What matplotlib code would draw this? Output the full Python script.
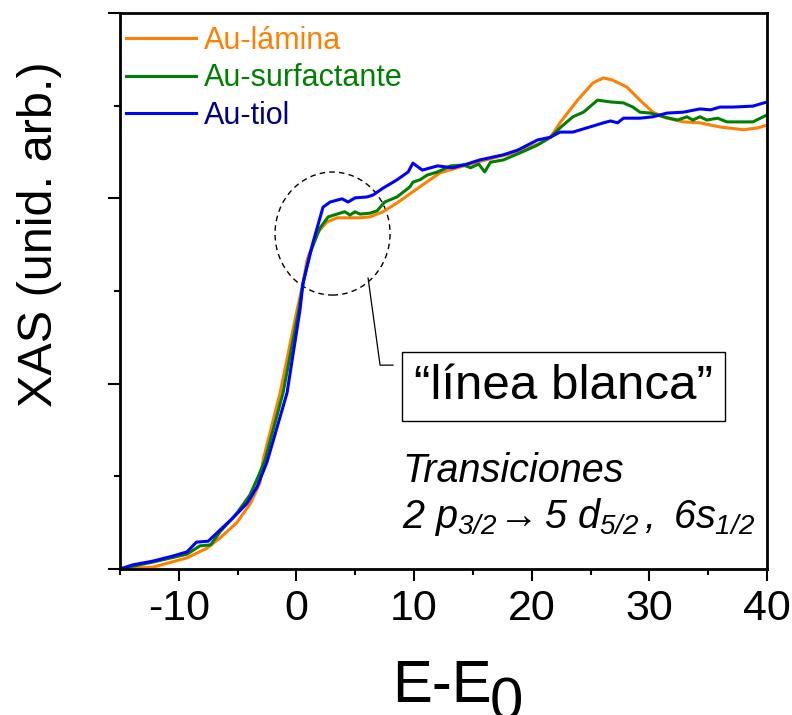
import matplotlib
matplotlib.use('Agg')
import matplotlib.pyplot as plt
from matplotlib.patches import Ellipse
from matplotlib.ticker import MultipleLocator

plt.rcParams['font.family'] = ['Liberation Sans', 'DejaVu Sans']
plt.rcParams['axes.unicode_minus'] = False
# italic everywhere in mathtext so the digits of the transition line lean too
plt.rcParams['mathtext.fontset'] = 'custom'
plt.rcParams['mathtext.rm'] = 'Liberation Sans:italic'
plt.rcParams['mathtext.it'] = 'Liberation Sans:italic'
plt.rcParams['mathtext.default'] = 'it'

# Au-lamina (orange)
e_lamina = [-15.0, -12.2, -9.3, -7.6, -6.5, -5.1, -3.9, -3.1, -2.84, -1.39, 0.05, 0.56,
            0.9, 1.75, 2.6, 3.45, 5.4, 6.26, 7.36, 8.55, 10.5, 12.2, 14.5, 16.7, 18.8,
            20.7, 21.6, 22.4, 23.9, 25.2, 26.1, 26.9, 28.1, 29.2, 30.3, 31.5, 32.9,
            34.3, 36.0, 38.0, 39.2, 40.0]
xas_lamina = [0.000, 0.004, 0.024, 0.045, 0.067, 0.099, 0.142, 0.186, 0.235, 0.380, 0.559, 0.617,
              0.667, 0.725, 0.749, 0.758, 0.758, 0.760, 0.771, 0.790, 0.825, 0.855, 0.872, 0.887, 0.900,
              0.919, 0.932, 0.963, 1.012, 1.049, 1.060, 1.055, 1.040, 1.012, 0.986, 0.973, 0.965,
              0.963, 0.954, 0.948, 0.952, 0.958]

# Au-surfactante (green)
e_surf = [-15.0, -13.9, -12.2, -9.3, -8.2, -7.3, -6.5, -5.05, -3.95, -3.26, -2.67, -1.14,
          0.2, 0.56, 1.16, 2.0, 2.7, 3.7, 4.1, 4.56, 4.98, 5.4, 6.26, 6.85, 7.5, 8.55,
          9.66, 9.9, 10.5, 11.1, 12.0, 13.1, 14.2, 14.8, 15.5, 16.0, 16.5, 17.6, 19.0,
          20.5, 21.6, 22.4, 23.5, 24.4, 25.6, 26.7, 27.8, 28.6, 29.2, 30.1, 31.2, 32.4,
          33.2, 33.7, 34.3, 34.9, 35.8, 36.6, 38.8, 40.0]
xas_surf = [0.000, 0.006, 0.015, 0.032, 0.050, 0.052, 0.080, 0.121, 0.160, 0.199, 0.235, 0.380,
            0.559, 0.617, 0.682, 0.736, 0.760, 0.768, 0.771, 0.764, 0.771, 0.766, 0.768, 0.773, 0.792, 0.803,
            0.825, 0.835, 0.840, 0.850, 0.857, 0.870, 0.872, 0.866, 0.874, 0.857, 0.878, 0.883, 0.898,
            0.915, 0.932, 0.952, 0.976, 0.986, 1.012, 1.008, 1.006, 0.997, 0.986, 0.984, 0.976, 0.969,
            0.976, 0.969, 0.976, 0.969, 0.973, 0.965, 0.965, 0.980]

# Au-tiol (blue)
e_tiol = [-15.0, -13.9, -12.2, -10.5, -9.3, -8.5, -7.5, -6.5, -5.4, -4.2, -3.35, -2.5,
          -0.8, 0.3, 0.56, 1.4, 2.26, 2.86, 3.88, 4.39, 4.98, 6.0, 6.5, 7.36, 8.55,
          9.5, 9.9, 10.7, 12.0, 13.3, 14.5, 15.6, 17.6, 18.8, 20.5, 21.6, 22.4, 23.5,
          25.2, 26.1, 26.7, 27.3, 27.8, 29.2, 30.3, 31.5, 32.9, 34.3, 35.2, 36.0, 37.1,
          38.8, 40.0]
xas_tiol = [0.000, 0.009, 0.017, 0.028, 0.037, 0.058, 0.060, 0.084, 0.110, 0.142, 0.177, 0.231,
            0.380, 0.559, 0.617, 0.704, 0.781, 0.792, 0.799, 0.792, 0.801, 0.803, 0.807, 0.822, 0.840,
            0.857, 0.876, 0.861, 0.870, 0.866, 0.874, 0.883, 0.894, 0.904, 0.926, 0.932, 0.943, 0.943,
            0.956, 0.963, 0.967, 0.963, 0.973, 0.973, 0.976, 0.984, 0.986, 0.993, 0.991, 0.997, 0.997,
            0.999, 1.008]

labels = ['Au-lámina', 'Au-surfactante', 'Au-tiol']
line_colors = ['#FF8000', '#008000', '#0000FF']
text_colors = ['#FF8000', '#008000', '#000080']

fig = plt.figure(figsize=(7.92, 7.15), dpi=100)
ax = fig.add_axes([0.1515, 0.2042, 0.8169, 0.7776])

series = [(e_lamina, xas_lamina), (e_surf, xas_surf), (e_tiol, xas_tiol)]
handles = []
for (e, v), c in zip(series, line_colors):
    h, = ax.plot(e, v, color=c, lw=2.2, solid_joinstyle='round')
    handles.append(h)

ax.set_xlim(-15, 40)
ax.set_ylim(0, 1.2)
ax.xaxis.set_major_locator(MultipleLocator(10))
ax.xaxis.set_minor_locator(MultipleLocator(5))
ax.yaxis.set_major_locator(MultipleLocator(0.4))
ax.yaxis.set_minor_locator(MultipleLocator(0.2))
ax.tick_params(which='major', direction='out', length=8.6, width=1.5, labelsize=31, pad=5.5)
ax.tick_params(which='minor', direction='out', length=4.3, width=1.5)
ax.tick_params(axis='y', labelleft=False)
for s in ax.spines.values():
    s.set_linewidth(2)

leg = ax.legend(handles, labels, loc='upper left', bbox_to_anchor=(0.009, 0.977),
                frameon=False, fontsize=22, handlelength=2.3, handletextpad=0.27,
                labelspacing=0.25, borderpad=0, borderaxespad=0, labelcolor=text_colors)

# white line region
ax.add_patch(Ellipse((3.07, 0.724), 9.78, 0.2655, fill=False, ec='black',
                     lw=1, ls=(0, (4, 3))))
ax.plot([6.09, 7.11, 8.21], [0.628, 0.440, 0.440], color='black', lw=0.9)
ax.text(22.71, 0.394, '\u201clínea blanca\u201d', fontsize=35.5, ha='center', va='center',
        bbox=dict(boxstyle='square,pad=0.24', fc='white', ec='black', lw=1))

ax.text(8.98, 0.188, 'Transiciones', fontsize=28.5, fontstyle='italic',
        ha='left', va='baseline')
ax.text(8.98, 0.0885, r'$2\ p_{3/2}\!\rightarrow 5\ d_{5/2}\,,\ 6s_{1/2}$',
        fontsize=28.5, ha='left', va='baseline')

fig.text(40 / 792, 1 - 234.5 / 715, 'XAS (unid. arb.)', rotation=90, fontsize=35,
         ha='center', va='center')
fig.text(441.5 / 792, 13 / 715, 'E-E', fontsize=43, ha='center', va='baseline')
fig.text(490 / 792, -5 / 715, '0', fontsize=43, ha='left', va='baseline')

fig.savefig('out.png', dpi=100)
